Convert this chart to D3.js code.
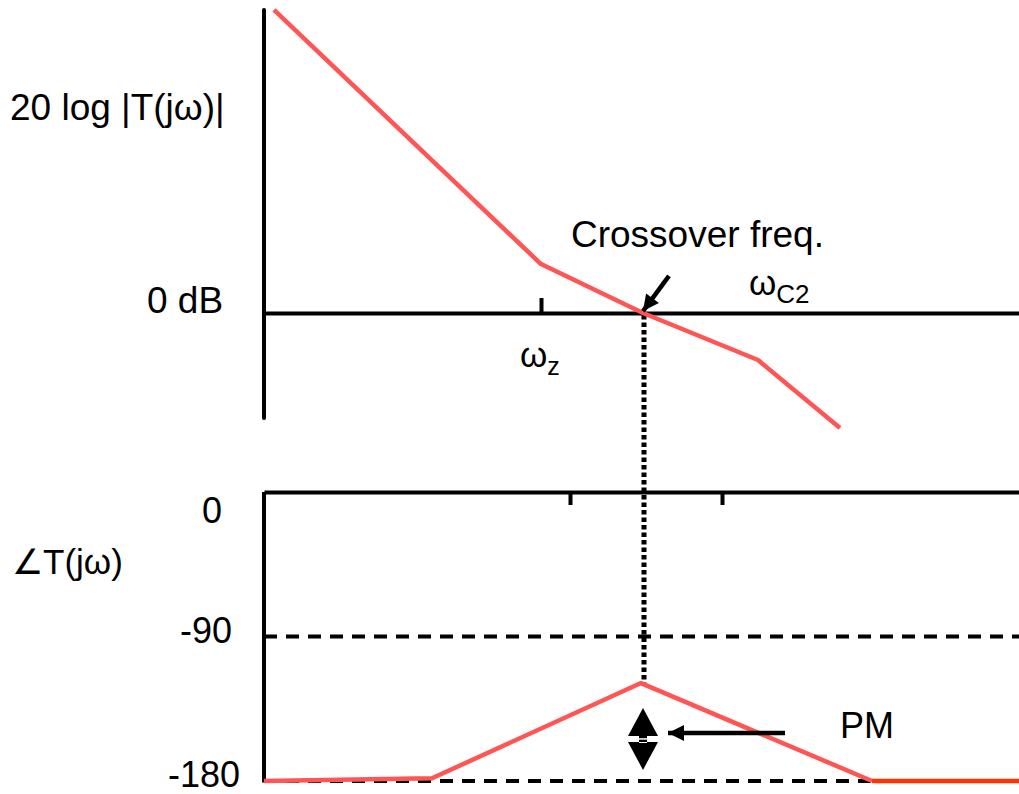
<!DOCTYPE html>
<html>
<head>
<meta charset="utf-8">
<script src="https://cdn.jsdelivr.net/npm/d3@7"></script>
<style>
  body { margin: 0; background: #ffffff; }
  svg text { font-family: "Liberation Sans", Arial, sans-serif; fill: #000; }
</style>
</head>
<body>
<svg id="bode"></svg>
<script>
////////////////////////////////////////////////////////////////////////////////
///////////////////////////////////////////////////////////////////////// Data
////////////////////////////////////////////////////////////////////////////////

// log-frequency positions (decade units from the vertical axis)
const magFreq = [0.10, 2.77, 3.79, 4.94, 5.76];
const magDb = [127.6, 20.6, 0, -19.8, -48.4];

const phaseFreq = [0, 1.68, 3.77, 6.08];
const phaseDeg = [-180, -178.3, -119, -180];
const phaseTailFreq = [6.08, 7.55];
const phaseTailDeg = [-180, -180];

const crossoverFreq = 3.79;
const omegaZ = 2.77;
const omegaC2 = 4.94;
const phaseTicks = [3.06, 4.58];
const phaseGrid = [-90, -180];
const phaseTickValues = [0, -90, -180];
const phaseTickLabels = ["0", "-90", "-180"];

// phase margin marker (degrees)
const pmTop = -134.5;
const pmBottom = -173.1;
const pmArrowDeg = -150.1;
const pmArrowFrom = 5.21;
const pmArrowTo = 4.04;

// crossover pointer (freq, dB)
const pointerFrom = [4.05, 15.6];
const pointerTo = [3.79, 0.8];

////////////////////////////////////////////////////////////////////////////////
//////////////////////////////////////////////////////////////////////// Setup
////////////////////////////////////////////////////////////////////////////////

const W = 1019, H = 794;
const red = "#ff5555";
const redTail = "#ff3300";

const svg = d3.select("#bode")
              .attr("width", W)
              .attr("height", H);

const xScale = d3.scaleLinear()
                 .domain([0, 7.55])
                 .range([264, 1019]);

const yMag = d3.scaleLinear()
               .domain([-50, 130])
               .range([313 + 50 * 2.375, 313 - 130 * 2.375]);

const yPhase = d3.scaleLinear()
                 .domain([-180, 0])
                 .range([781, 492]);

const defs = svg.append("defs");
defs.append("marker")
      .attr("id", "head")
      .attr("viewBox", "0 0 10 10")
      .attr("refX", 10)
      .attr("refY", 5)
      .attr("markerUnits", "userSpaceOnUse")
      .attr("markerWidth", 17)
      .attr("markerHeight", 16)
      .attr("orient", "auto")
    .append("path")
      .attr("d", "M0,0 L10,5 L0,10 Z")
      .attr("fill", "#000");

////////////////////////////////////////////////////////////////////////////////
//////////////////////////////////////////////////////////// Magnitude plot
////////////////////////////////////////////////////////////////////////////////

// vertical axis
svg.append("line")
     .attr("x1", xScale(0)).attr("x2", xScale(0))
     .attr("y1", yMag(127.6)).attr("y2", yMag(-44.2))
     .attr("stroke", "#000")
     .attr("stroke-width", 4)
     .attr("stroke-linecap", "round");

// 0 dB axis with the two corner ticks
const magAxisDown = d3.axisBottom(xScale)
                      .tickValues([omegaC2])
                      .tickSize(13)
                      .tickSizeOuter(0)
                      .tickFormat("");
const magAxisUp = d3.axisTop(xScale)
                    .tickValues([omegaZ])
                    .tickSize(15)
                    .tickSizeOuter(0)
                    .tickFormat("");
svg.append("g")
     .attr("transform", `translate(0,${yMag(0)})`)
     .call(magAxisDown)
     .call(magAxisUp)
     .call(g => g.selectAll("path, line")
                 .attr("stroke", "#000")
                 .attr("stroke-width", 4));

// dotted crossover line
svg.append("line")
     .attr("x1", xScale(crossoverFreq) + 1).attr("x2", xScale(crossoverFreq) + 1)
     .attr("y1", yMag(0) + 2).attr("y2", yPhase(-119))
     .attr("stroke", "#000")
     .attr("stroke-width", 5)
     .attr("stroke-dasharray", "4.5 3");

// magnitude asymptotes
const magLine = d3.line()
                  .x(d => xScale(d[0]))
                  .y(d => yMag(d[1]));
svg.append("path")
     .attr("d", magLine(d3.zip(magFreq, magDb)))
     .attr("fill", "none")
     .attr("stroke", red)
     .attr("stroke-width", 4.5)
     .attr("stroke-linejoin", "round");

// crossover pointer
svg.append("line")
     .attr("x1", xScale(pointerFrom[0])).attr("y1", yMag(pointerFrom[1]))
     .attr("x2", xScale(pointerTo[0])).attr("y2", yMag(pointerTo[1]))
     .attr("stroke", "#000")
     .attr("stroke-width", 4.5)
     .attr("marker-end", "url(#head)");

////////////////////////////////////////////////////////////////////////////////
//////////////////////////////////////////////////////////////// Phase plot
////////////////////////////////////////////////////////////////////////////////

// dashed reference lines
svg.selectAll(".grid")
   .data(phaseGrid)
   .join("line")
     .attr("class", "grid")
     .attr("x1", xScale(0)).attr("x2", xScale(7.55))
     .attr("y1", d => yPhase(d)).attr("y2", d => yPhase(d))
     .attr("stroke", "#000")
     .attr("stroke-width", 4)
     .attr("stroke-dasharray", "13 9");

// vertical axis
svg.append("line")
     .attr("x1", xScale(0)).attr("x2", xScale(0))
     .attr("y1", yPhase(0)).attr("y2", yPhase(-181))
     .attr("stroke", "#000")
     .attr("stroke-width", 4);

// 0 degree axis
const phaseAxis = d3.axisBottom(xScale)
                    .tickValues(phaseTicks)
                    .tickSize(13)
                    .tickSizeOuter(0)
                    .tickFormat("");
svg.append("g")
     .attr("transform", `translate(0,${yPhase(0)})`)
     .call(phaseAxis)
     .call(g => g.selectAll("path, line")
                 .attr("stroke", "#000")
                 .attr("stroke-width", 4));

// phase asymptotes
const phaseLine = d3.line()
                    .x(d => xScale(d[0]))
                    .y(d => yPhase(d[1]));
svg.append("path")
     .attr("d", phaseLine(d3.zip(phaseFreq, phaseDeg)))
     .attr("fill", "none")
     .attr("stroke", red)
     .attr("stroke-width", 4.5)
     .attr("stroke-linejoin", "round");
svg.append("path")
     .attr("d", phaseLine(d3.zip(phaseTailFreq, phaseTailDeg)))
     .attr("fill", "none")
     .attr("stroke", redTail)
     .attr("stroke-width", 4.5);

// phase margin double arrow
const pmX = xScale(crossoverFreq);
const pmMid = (yPhase(pmTop) + yPhase(pmBottom)) / 2;
svg.append("path")
     .attr("d", `M${pmX},${yPhase(pmTop)} L${pmX + 15},${pmMid - 3} L${pmX - 15},${pmMid - 3} Z`
              + `M${pmX},${yPhase(pmBottom)} L${pmX + 15},${pmMid + 3} L${pmX - 15},${pmMid + 3} Z`
              + `M${pmX - 4},${pmMid - 4} h8 v8 h-8 Z`)
     .attr("fill", "#000");
svg.append("line")
     .attr("x1", pmX - 15).attr("x2", pmX + 15)
     .attr("y1", pmMid).attr("y2", pmMid)
     .attr("stroke", "#fff")
     .attr("stroke-width", 1.5);

// PM pointer
svg.append("line")
     .attr("x1", xScale(pmArrowFrom)).attr("x2", xScale(pmArrowTo))
     .attr("y1", yPhase(pmArrowDeg)).attr("y2", yPhase(pmArrowDeg))
     .attr("stroke", "#000")
     .attr("stroke-width", 4.5)
     .attr("marker-end", "url(#head)");

////////////////////////////////////////////////////////////////////////////////
//////////////////////////////////////////////////////////////////////// Labels
////////////////////////////////////////////////////////////////////////////////

svg.append("text")
     .attr("x", 10).attr("y", 120)
     .style("font-size", "37px")
     .text("20 log |T(jω)|");

svg.append("text")
     .attr("x", 147).attr("y", yMag(0))
     .style("font-size", "37px")
     .text("0 dB");

svg.append("text")
     .attr("x", 571).attr("y", 247)
     .style("font-size", "37px")
     .text("Crossover freq.");

// ωz
const wz = svg.append("text")
                .attr("x", xScale(omegaZ) - 21).attr("y", 367)
                .style("font-size", "35px");
wz.append("tspan").text("ω");
wz.append("tspan").attr("dy", 8).style("font-size", "25px").text("z");

// ωC2
const wc = svg.append("text")
                .attr("x", xScale(omegaC2) - 9).attr("y", 295)
                .style("font-size", "35px");
wc.append("tspan").text("ω");
wc.append("tspan").attr("dy", 8).style("font-size", "26px").text("C2");

svg.append("text")
     .attr("x", 12).attr("y", 574)
     .style("font-size", "35px")
     .text("∠T(jω)");

const labelRight = [222, 232, 240];
const labelBase = [523, 643, 787];
svg.selectAll(".phase-label")
   .data(phaseTickValues)
   .join("text")
     .attr("class", "phase-label")
     .attr("x", (d, i) => labelRight[i])
     .attr("y", (d, i) => labelBase[i])
     .attr("text-anchor", "end")
     .style("font-size", "36px")
     .text((d, i) => phaseTickLabels[i]);

svg.append("text")
     .attr("x", 840).attr("y", 738)
     .style("font-size", "36px")
     .text("PM");
</script>
</body>
</html>
